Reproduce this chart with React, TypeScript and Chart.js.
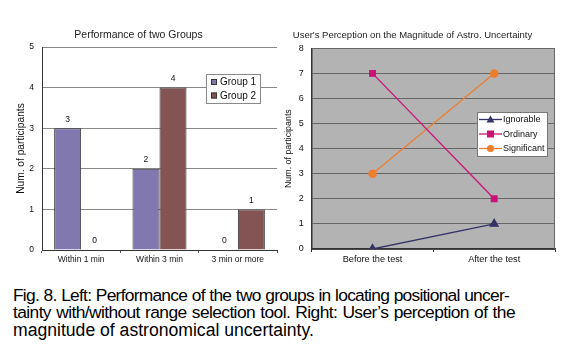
import React, { useEffect, useRef } from "react";
import { Chart, registerables } from "chart.js";

Chart.register(...registerables);

const FONT = '"Liberation Sans", Arial, Helvetica, sans-serif';

// Left chart data
const leftTitle = "Performance of two Groups";
const leftCategories = ["Within 1 min", "Within 3 min", "3 min or more"];
const group1Values = [3, 2, 0];
const group2Values = [0, 4, 1];
const leftSeriesNames = ["Group 1", "Group 2"];

// Right chart data
const rightTitle = "User's Perception on the Magnitude of Astro. Uncertainty";
const rightCategories = ["Before the test", "After the test"];
const ignorableValues = [0, 1];
const ordinaryValues = [7, 2];
const significantValues = [3, 7];
const rightSeriesNames = ["Ignorable", "Ordinary", "Significant"];

const yTitle = "Num. of participants";

const captionLines = [
  "Fig. 8. Left: Performance of the two groups in locating positional uncer-",
  "tainty with/without range selection tool.  Right: User\u2019s perception of the",
  "magnitude of astronomical uncertainty.",
];

const C_G1 = "#8178b0";
const C_G2 = "#845454";
const C_IGN = "#333366";
const C_ORD = "#cc1177";
const C_SIG = "#ee7d2e";

const barLabelPlugin = {
  id: "barLabels",
  afterDatasetsDraw(chart: any) {
    const ctx = chart.ctx;
    ctx.save();
    ctx.font = `8.5px ${FONT}`;
    ctx.fillStyle = "#111";
    ctx.textAlign = "center";
    ctx.textBaseline = "middle";
    chart.data.datasets.forEach((ds: any, i: number) => {
      const meta = chart.getDatasetMeta(i);
      meta.data.forEach((el: any, j: number) => {
        ctx.fillText(String(ds.data[j]), el.x, el.y - 9);
      });
    });
    ctx.restore();
  },
};

const leftLegendPlugin = {
  id: "leftLegend",
  afterDraw(chart: any) {
    const ctx = chart.ctx;
    const ca = chart.chartArea;
    const x0 = ca.right - 71;
    const y0 = 74;
    const w = 54;
    const h = 29;
    ctx.save();
    ctx.fillStyle = "#fff";
    ctx.fillRect(x0, y0, w, h);
    ctx.strokeStyle = "#888";
    ctx.lineWidth = 1;
    ctx.strokeRect(x0 + 0.5, y0 + 0.5, w, h);
    ctx.font = `10px ${FONT}`;
    ctx.textBaseline = "middle";
    ctx.textAlign = "left";
    chart.data.datasets.forEach((ds: any, i: number) => {
      const cy = y0 + 8 + i * 13.5;
      ctx.fillStyle = ds.backgroundColor;
      ctx.fillRect(x0 + 5, cy - 3, 6, 6);
      ctx.strokeStyle = "#333";
      ctx.strokeRect(x0 + 5.5, cy - 2.5, 5, 5);
      ctx.fillStyle = "#111";
      ctx.fillText(ds.label, x0 + 14, cy + 0.5);
    });
    ctx.restore();
  },
};

const plotBgPlugin = {
  id: "plotBg",
  beforeDraw(chart: any) {
    const ca = chart.chartArea;
    const ctx = chart.ctx;
    ctx.save();
    ctx.fillStyle = "#b3b3b3";
    ctx.fillRect(ca.left, ca.top, ca.right - ca.left, ca.bottom - ca.top);
    ctx.restore();
  },
  afterDraw(chart: any) {
    const ca = chart.chartArea;
    const ctx = chart.ctx;
    ctx.save();
    ctx.strokeStyle = "#666";
    ctx.lineWidth = 1;
    ctx.beginPath();
    ctx.moveTo(Math.round(ca.left) + 0.5, Math.round(ca.top) + 0.5);
    ctx.lineTo(Math.round(ca.right) - 0.5, Math.round(ca.top) + 0.5);
    ctx.lineTo(Math.round(ca.right) - 0.5, Math.round(ca.bottom));
    ctx.stroke();
    ctx.restore();
  },
};

function drawMarker(ctx: any, style: string, x: number, y: number, color: string) {
  ctx.fillStyle = color;
  ctx.beginPath();
  if (style === "triangle") {
    ctx.moveTo(x, y - 4);
    ctx.lineTo(x + 4, y + 3);
    ctx.lineTo(x - 4, y + 3);
    ctx.closePath();
  } else if (style === "rect") {
    ctx.rect(x - 3.5, y - 3.5, 7, 7);
  } else {
    ctx.arc(x, y, 3.5, 0, Math.PI * 2);
  }
  ctx.fill();
}

const rightLegendPlugin = {
  id: "rightLegend",
  afterDraw(chart: any) {
    const ctx = chart.ctx;
    const x0 = 207;
    const y0 = 112;
    const w = 70;
    const h = 44;
    ctx.save();
    ctx.fillStyle = "#fff";
    ctx.fillRect(x0, y0, w, h);
    ctx.strokeStyle = "#777";
    ctx.lineWidth = 1;
    ctx.strokeRect(x0 + 0.5, y0 + 0.5, w, h);
    ctx.font = `9px ${FONT}`;
    ctx.textBaseline = "middle";
    ctx.textAlign = "left";
    chart.data.datasets.forEach((ds: any, i: number) => {
      const cy = y0 + 7.5 + i * 14.5;
      ctx.strokeStyle = ds.borderColor;
      ctx.lineWidth = 1.3;
      ctx.beginPath();
      ctx.moveTo(x0 + 2, cy);
      ctx.lineTo(x0 + 25, cy);
      ctx.stroke();
      drawMarker(ctx, ds.pointStyle, x0 + 13.5, cy, ds.backgroundColor);
      ctx.fillStyle = "#111";
      ctx.fillText(ds.label, x0 + 26, cy + 0.5);
    });
    ctx.restore();
  },
};

function LeftChart() {
  const ref = useRef<HTMLCanvasElement>(null);
  useEffect(() => {
    const chart = new Chart(ref.current as HTMLCanvasElement, {
      type: "bar",
      data: {
        labels: leftCategories,
        datasets: [
          {
            label: leftSeriesNames[0],
            data: group1Values,
            backgroundColor: C_G1,
            borderColor: "#333",
            borderWidth: 1,
            categoryPercentage: 0.69,
            barPercentage: 1,
          },
          {
            label: leftSeriesNames[1],
            data: group2Values,
            backgroundColor: C_G2,
            borderColor: "#333",
            borderWidth: 1,
            categoryPercentage: 0.69,
            barPercentage: 1,
          },
        ],
      },
      options: {
        responsive: false,
        maintainAspectRatio: false,
        animation: false,
        layout: { padding: { top: 0, right: 8, bottom: 0, left: 0 } },
        plugins: {
          legend: { display: false },
          tooltip: { enabled: false },
          title: {
            display: true,
            text: leftTitle,
            color: "#222",
            font: { size: 10.5, family: FONT, weight: "normal" },
            padding: { top: 28.7, bottom: 5.7 },
          },
        },
        scales: {
          x: {
            grid: {
              display: true,
              drawOnChartArea: false,
              drawTicks: true,
              tickLength: 3,
              color: "#555",
              offset: true,
            },
            border: { display: true, color: "#333", width: 1 },
            ticks: { color: "#111", font: { size: 8.5, family: FONT }, padding: 2, maxRotation: 0 },
            afterFit: (s: any) => {
              s.height = 20;
            },
          },
          y: {
            min: 0,
            max: 5,
            ticks: { stepSize: 1, color: "#111", font: { size: 8.5, family: FONT }, padding: 8 },
            grid: { color: "#888", drawTicks: false },
            border: { display: true, color: "#333", width: 1 },
            title: {
              display: true,
              text: yTitle,
              color: "#111",
              font: { size: 10.2, family: FONT },
              padding: { top: 15.5, bottom: 0 },
            },
            afterFit: (s: any) => {
              s.width = 42;
            },
          },
        },
      },
      plugins: [barLabelPlugin, leftLegendPlugin],
    } as any);
    return () => chart.destroy();
  }, []);
  return <canvas ref={ref} width={285} height={270} style={{ position: "absolute", left: 0, top: 0, width: 285, height: 270 }} />;
}

function RightChart() {
  const ref = useRef<HTMLCanvasElement>(null);
  useEffect(() => {
    const mk = (label: string, data: number[], color: string, style: string, r: number) => ({
      label,
      data,
      borderColor: color,
      backgroundColor: color,
      pointBackgroundColor: color,
      pointBorderColor: color,
      pointStyle: style,
      pointRadius: r,
      borderWidth: 1.3,
      tension: 0,
    });
    const chart = new Chart(ref.current as HTMLCanvasElement, {
      type: "line",
      data: {
        labels: rightCategories,
        datasets: [
          mk(rightSeriesNames[0], ignorableValues, C_IGN, "triangle", 4.5),
          mk(rightSeriesNames[1], ordinaryValues, C_ORD, "rect", 4),
          mk(rightSeriesNames[2], significantValues, C_SIG, "circle", 3.6),
        ],
      },
      options: {
        responsive: false,
        maintainAspectRatio: false,
        animation: false,
        layout: { padding: { top: 0, right: 15, bottom: 0, left: 0 } },
        plugins: {
          legend: { display: false },
          tooltip: { enabled: false },
          title: {
            display: true,
            text: rightTitle,
            color: "#222",
            font: { size: 9.5, family: FONT, weight: "normal" },
            padding: { top: 29.3, bottom: 7.6 },
          },
        },
        scales: {
          x: {
            offset: true,
            grid: {
              display: true,
              drawOnChartArea: false,
              drawTicks: true,
              tickLength: 3,
              color: "#333",
              offset: true,
            },
            border: { display: true, color: "#333", width: 1.5 },
            ticks: { color: "#111", font: { size: 9.2, family: FONT }, padding: 2, maxRotation: 0 },
            afterFit: (s: any) => {
              s.height = 21;
            },
          },
          y: {
            min: 0,
            max: 8,
            ticks: { stepSize: 1, color: "#111", font: { size: 9, family: FONT }, padding: 8 },
            grid: { color: "#666", drawTicks: false },
            border: { display: true, color: "#333", width: 1.5 },
            title: {
              display: true,
              text: yTitle,
              color: "#111",
              font: { size: 8.9, family: FONT },
              padding: { top: 13, bottom: 0 },
            },
            afterFit: (s: any) => {
              s.width = 41.7;
            },
          },
        },
      },
      plugins: [plotBgPlugin, rightLegendPlugin],
    } as any);
    return () => chart.destroy();
  }, []);
  return <canvas ref={ref} width={300} height={270} style={{ position: "absolute", left: 270, top: 0, width: 300, height: 270 }} />;
}

export default function App() {
  const lineStyle = (i: number): React.CSSProperties => ({
    position: "absolute",
    left: 13,
    top: 287 + i * 17.4,
    width: i === 0 ? 496 : i === 1 ? 502 : undefined,
    whiteSpace: "nowrap",
    font: `${i === 2 ? 17.6 : 17.4}px ${FONT}`,
    letterSpacing: i === 0 ? "-0.75px" : i === 1 ? "-0.6px" : "0px",
    lineHeight: "17.4px",
    color: "#000",
    textAlign: i < 2 ? "justify" : "left",
    textAlignLast: i < 2 ? "justify" : "left",
  } as React.CSSProperties);
  return (
    <div style={{ position: "fixed", left: 0, top: 0, width: 570, height: 358, background: "#fff", overflow: "hidden" }}>
      <LeftChart />
      <RightChart />
      {captionLines.map((t, i) => (
        <div key={i} style={lineStyle(i)}>
          {t}
        </div>
      ))}
    </div>
  );
}
